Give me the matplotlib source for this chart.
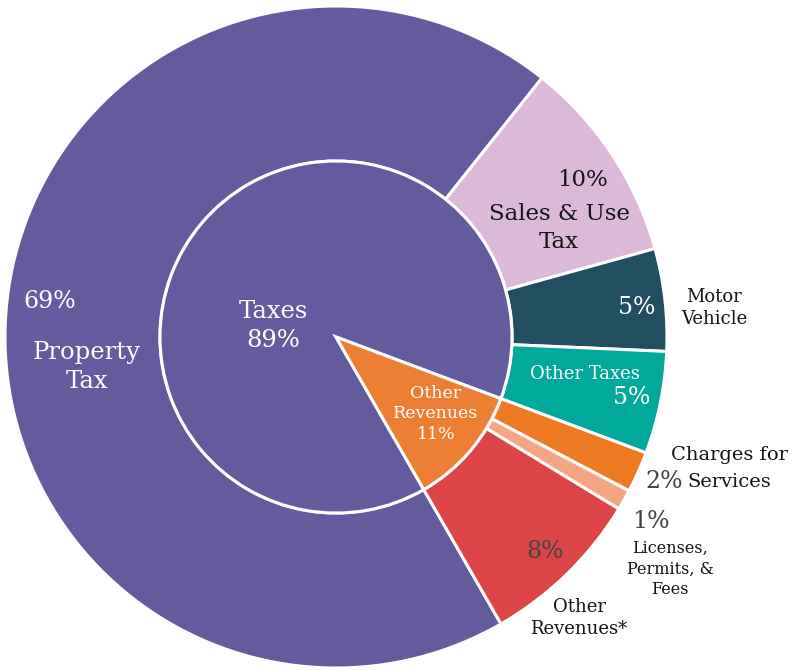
import matplotlib.pyplot as plt

# outer ring: individual revenue sources (percent of total)
sources = ["Property Tax", "Sales & Use Tax", "Motor Vehicle", "Other Taxes",
           "Charges for Services", "Licenses, Permits, & Fees", "Other Revenues*"]
source_pct = [69, 10, 5, 5, 2, 1, 8]
source_colors = ["#645b9e", "#dcb9d9", "#224e62", "#00a99b",
                 "#ef7a24", "#f6a583", "#dd4446"]

# inner pie: grouped totals
groups = ["Taxes", "Other Revenues"]
group_pct = [89, 11]
group_colors = ["#645b9e", "#ec7f33"]

plt.rcParams["font.family"] = ["DejaVu Serif"]

fig = plt.figure(figsize=(7.93, 6.71), dpi=100)
ax = fig.add_axes([0, 0, 1, 1])

cx, cy = 336, 337
r_out, r_in = 331, 176
edge = dict(edgecolor="white", linewidth=2.2)

# pie draws in a y-up frame; the axis gets flipped below, so counterclock=True
# renders clockwise and angles are mirrored
ax.pie(source_pct, colors=source_colors, center=(cx, cy), radius=r_out,
       startangle=60.1, counterclock=True, frame=True,
       wedgeprops=dict(width=r_out - r_in, **edge))
ax.pie(group_pct, colors=group_colors, center=(cx, cy), radius=r_in,
       startangle=60.1, counterclock=True, frame=True, wedgeprops=edge)
ax.set_xlim(0, 793)
ax.set_ylim(671, 0)
ax.set_aspect("equal")
ax.axis("off")

white = "white"
ink = "#141414"
grey = "#444444"


def label(x, y, s, color, size, ls=1.15):
    ax.text(x, y, s, color=color, fontsize=size, ha="center", va="center",
            linespacing=ls)


# property tax / taxes group
label(50, 302, "69%", white, 17)
label(87, 367, "Property\nTax", white, 17.5, 1.3)
label(273, 326, "Taxes\n89%", white, 17.5, 1.3)
label(436, 414, "Other\nRevenues\n11%", white, 12.5, 1.3)

# tax slices
label(583, 180, "10%", ink, 16.5)
label(559, 228, "Sales & Use\nTax", ink, 16.5, 1.35)
label(637, 307, "5%", white, 17)
label(714, 308, "Motor\nVehicle", ink, 13, 1.3)
label(585, 374, "Other Taxes", white, 13)
label(632, 398, "5%", white, 17)

# other revenue slices
label(729, 455, "Charges for", ink, 14)
label(664, 482, "2%", grey, 17)
label(729, 482, "Services", ink, 14)
label(651, 522, "1%", grey, 17)
label(670, 569, "Licenses,\nPermits, &\nFees", ink, 11.5, 1.3)
label(545, 552, "8%", grey, 17)
label(579, 618, "Other\nRevenues*", ink, 13, 1.3)

fig.savefig("out.png", dpi=100)
